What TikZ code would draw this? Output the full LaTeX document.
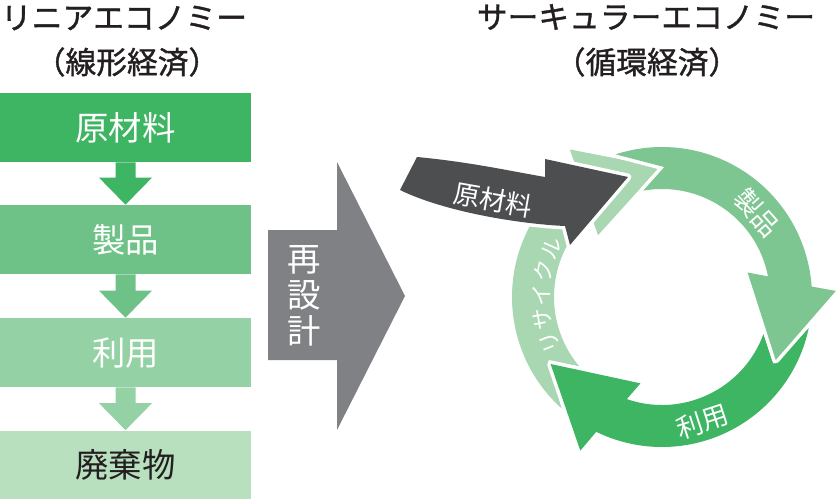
\documentclass[tikz,border=0pt]{standalone}
\usepackage{fontspec}
\setmainfont{Noto Sans CJK JP}
\newfontfamily\titlefont[FakeBold=1.2]{Noto Sans CJK JP}
\usetikzlibrary{calc}
\definecolor{green1}{RGB}{61,181,99}
\definecolor{green2}{RGB}{111,194,135}
\definecolor{green3}{RGB}{148,209,164}
\definecolor{green4}{RGB}{184,224,191}
\definecolor{ringmid}{RGB}{125,198,145}
\definecolor{ringlight}{RGB}{168,215,178}
\definecolor{redesigngray}{RGB}{128,129,132}
\definecolor{rawgray}{RGB}{77,78,80}
\definecolor{titleblack}{RGB}{35,31,32}
\tikzset{
	box/.style = {minimum width=5.02cm, minimum height=1.38cm, inner sep=0pt, text=white, font=\fontsize{19}{19}\selectfont},
	title/.style = {text=titleblack, inner sep=0pt, font=\titlefont\fontsize{17.5}{17.5}\selectfont},
	ringlabel/.style = {text=white, inner sep=0pt, font=\fontsize{15}{15}\selectfont},
	recyclechar/.style = {text=white, inner sep=0pt, font=\fontsize{12.5}{12.5}\selectfont},
	cut/.style = {preaction={draw=white, line width=4pt, line join=round}}
}
% arrow between two boxes: from, to, colour
\newcommand{\flowarrow}[3]{
	\fill[#3] ($(#1.south)+(-10,0)$) -- ($(#2.north)+(-10,-27)$) -- ($(#2.north)+(-26.5,-27)$)
		-- (#2.north) -- ($(#2.north)+(26.5,-27)$) -- ($(#2.north)+(10,-27)$) -- ($(#1.south)+(10,0)$) -- cycle;
}
% one third of the ring: colour, angle of the outer wing
\newcommand{\ringarrow}[2]{
	\fill[#1, cut] ({#2+106}:150) arc[start angle={#2+106}, end angle={#2+2}, radius=150]
		-- (#2:174) -- ({#2-31}:130) -- ({#2+14}:89) -- ({#2+9}:108)
		arc[start angle={#2+9}, end angle={#2+98}, radius=108]
		-- ({#2+87}:130) -- cycle;
}
\begin{document}
\begin{tikzpicture}[x=0.02cm, y=-0.02cm]
	\useasboundingbox (0,0) rectangle (838,500);
	% titles
	\node[title] (lintitle) at (124,18) {リニアエコノミー};
	\node[title] (linsub) at (127,62) {（線形経済）};
	\node[title] (circtitle) at (646,17) {サーキュラーエコノミー};
	\node[title] (circsub) at (647,62) {（循環経済）};
	% the linear part
	\node[box, fill=green1] (raw) at (125.5,127.5) {原材料};
	\node[box, fill=green2] (product) at (125.5,239.5) {製品};
	\node[box, fill=green3] (use) at (125.5,352.5) {利用};
	\node[box, fill=green4, text=titleblack] (waste) at (125.5,465) {廃棄物};
	\flowarrow{raw}{product}{green1}
	\flowarrow{product}{use}{green2}
	\flowarrow{use}{waste}{green3}
	% redesign
	\fill[redesigngray] (268,230) -- (337,230) -- (337,162) -- (405,296) -- (337,430) -- (337,360) -- (268,360) -- cycle;
	\node[text=white, align=center, inner sep=0pt, font=\fontsize{19}{20.4}\selectfont] (redesign) at (304,296) {再\\設\\計};
	% the ring
	\coordinate (ring) at (662,297);
	\begin{scope}[shift={(ring)}, y=0.02cm]
		\ringarrow{ringlight}{122}
		\ringarrow{green1}{242}
		\ringarrow{ringmid}{2}
		\node[ringlabel, rotate=-48.5] (ringproduct) at (41.5:127) {製品};
		\node[ringlabel, rotate=18] (ringuse) at (-72:131) {利用};
		\foreach \ch [count=\i] in {リ,サ,イ,ク,ル}
			\node[recyclechar, rotate={202-11.5*(\i-1)-90}] (recycle\i) at ({202-11.5*(\i-1)}:121) {\ch};
	\end{scope}
	% raw material coming in
	\fill[rawgray, cut] (417,157) .. controls (470,162) and (510,171) .. (545,177) -- (545,159) -- (628,177)
		-- (570,245) -- (565,226) .. controls (520,224) and (445,212) .. (400,190) -- cycle;
	\node[ringlabel, rotate=-10] (rawin) at (493,200) {原材料};
\end{tikzpicture}
\end{document}
